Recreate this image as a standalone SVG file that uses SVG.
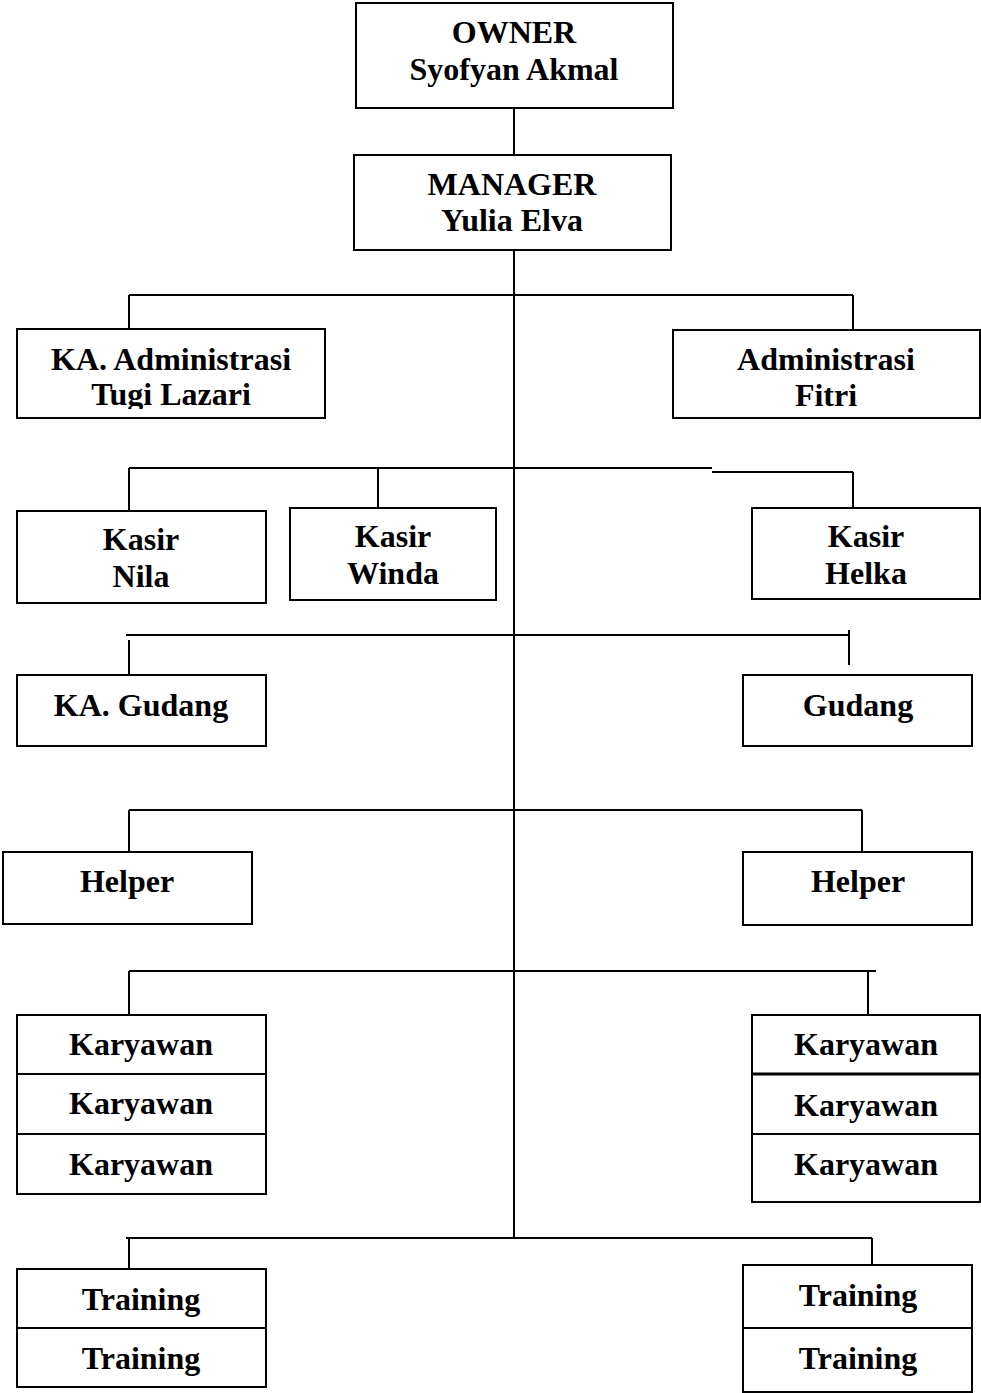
<svg xmlns="http://www.w3.org/2000/svg" width="981" height="1393" viewBox="0 0 981 1393">
<style>
.box{fill:#fff;stroke:#000;stroke-width:2}
.ln{stroke:#000;stroke-width:2;fill:none}
text{font-weight:bold;font-size:32px;text-anchor:middle;fill:#000}
</style>
<defs>
<clipPath id="clipTugi"><rect x="17" y="329" width="308" height="80"/></clipPath>
</defs>
<rect width="981" height="1393" fill="#fff"/>
<g id="connectors">
<path class="ln" d="M514 108V155"/>
<path class="ln" d="M514 250V1238"/>
<path class="ln" d="M129 295H853M129 295V329M853 295V329"/>
<path class="ln" d="M129 468H712M712 472H853M129 468V511M378 468V508M853 472V508"/>
<path class="ln" d="M126 635H849M129 640V675M849 630V665"/>
<path class="ln" d="M129 810H862M129 810V852M862 810V852"/>
<path class="ln" d="M129 971H876M129 971V1015M868 971V1015"/>
<path class="ln" d="M126 1238H872M129 1238V1269M872 1238V1265"/>
</g>
<g font-family="Liberation Serif, Times New Roman, serif">
<g id="owner"><rect class="box" x="356" y="3" width="317" height="105"/><text x="514" y="43">OWNER</text><text x="514" y="80">Syofyan Akmal</text></g>
<g id="manager"><rect class="box" x="354" y="155" width="317" height="95"/><text x="512" y="195">MANAGER</text><text x="512" y="231">Yulia Elva</text></g>
<g id="ka-administrasi"><rect class="box" x="17" y="329" width="308" height="89"/><text x="171" y="370">KA. Administrasi</text><text x="171" y="405" clip-path="url(#clipTugi)">Tugi Lazari</text></g>
<g id="administrasi"><rect class="box" x="673" y="330" width="307" height="88"/><text x="826" y="370">Administrasi</text><text x="826" y="406">Fitri</text></g>
<g id="kasir-nila"><rect class="box" x="17" y="511" width="249" height="92"/><text x="141" y="550">Kasir</text><text x="141" y="587">Nila</text></g>
<g id="kasir-winda"><rect class="box" x="290" y="508" width="206" height="92"/><text x="393" y="547">Kasir</text><text x="393" y="584">Winda</text></g>
<g id="kasir-helka"><rect class="box" x="752" y="508" width="228" height="91"/><text x="866" y="547">Kasir</text><text x="866" y="584">Helka</text></g>
<g id="ka-gudang"><rect class="box" x="17" y="675" width="249" height="71"/><text x="141" y="716">KA. Gudang</text></g>
<g id="gudang"><rect class="box" x="743" y="675" width="229" height="71"/><text x="858" y="716">Gudang</text></g>
<g id="helper-left"><rect class="box" x="3" y="852" width="249" height="72"/><text x="127" y="892">Helper</text></g>
<g id="helper-right"><rect class="box" x="743" y="852" width="229" height="73"/><text x="858" y="892">Helper</text></g>
<g id="karyawan-left"><rect class="box" x="17" y="1015" width="249" height="179"/><path class="ln" d="M17 1074H266M17 1134H266"/><text x="141" y="1055">Karyawan</text><text x="141" y="1114">Karyawan</text><text x="141" y="1175">Karyawan</text></g>
<g id="karyawan-right"><rect class="box" x="752" y="1015" width="228" height="187"/><path class="ln" d="M752 1074H980" style="stroke-width:3"/><path class="ln" d="M752 1134H980"/><text x="866" y="1055">Karyawan</text><text x="866" y="1116">Karyawan</text><text x="866" y="1175">Karyawan</text></g>
<g id="training-left"><rect class="box" x="17" y="1269" width="249" height="118"/><path class="ln" d="M17 1328H266"/><text x="141" y="1310">Training</text><text x="141" y="1369">Training</text></g>
<g id="training-right"><rect class="box" x="743" y="1265" width="229" height="127"/><path class="ln" d="M743 1328H972"/><text x="858" y="1306">Training</text><text x="858" y="1369">Training</text></g>
</g>
</svg>
